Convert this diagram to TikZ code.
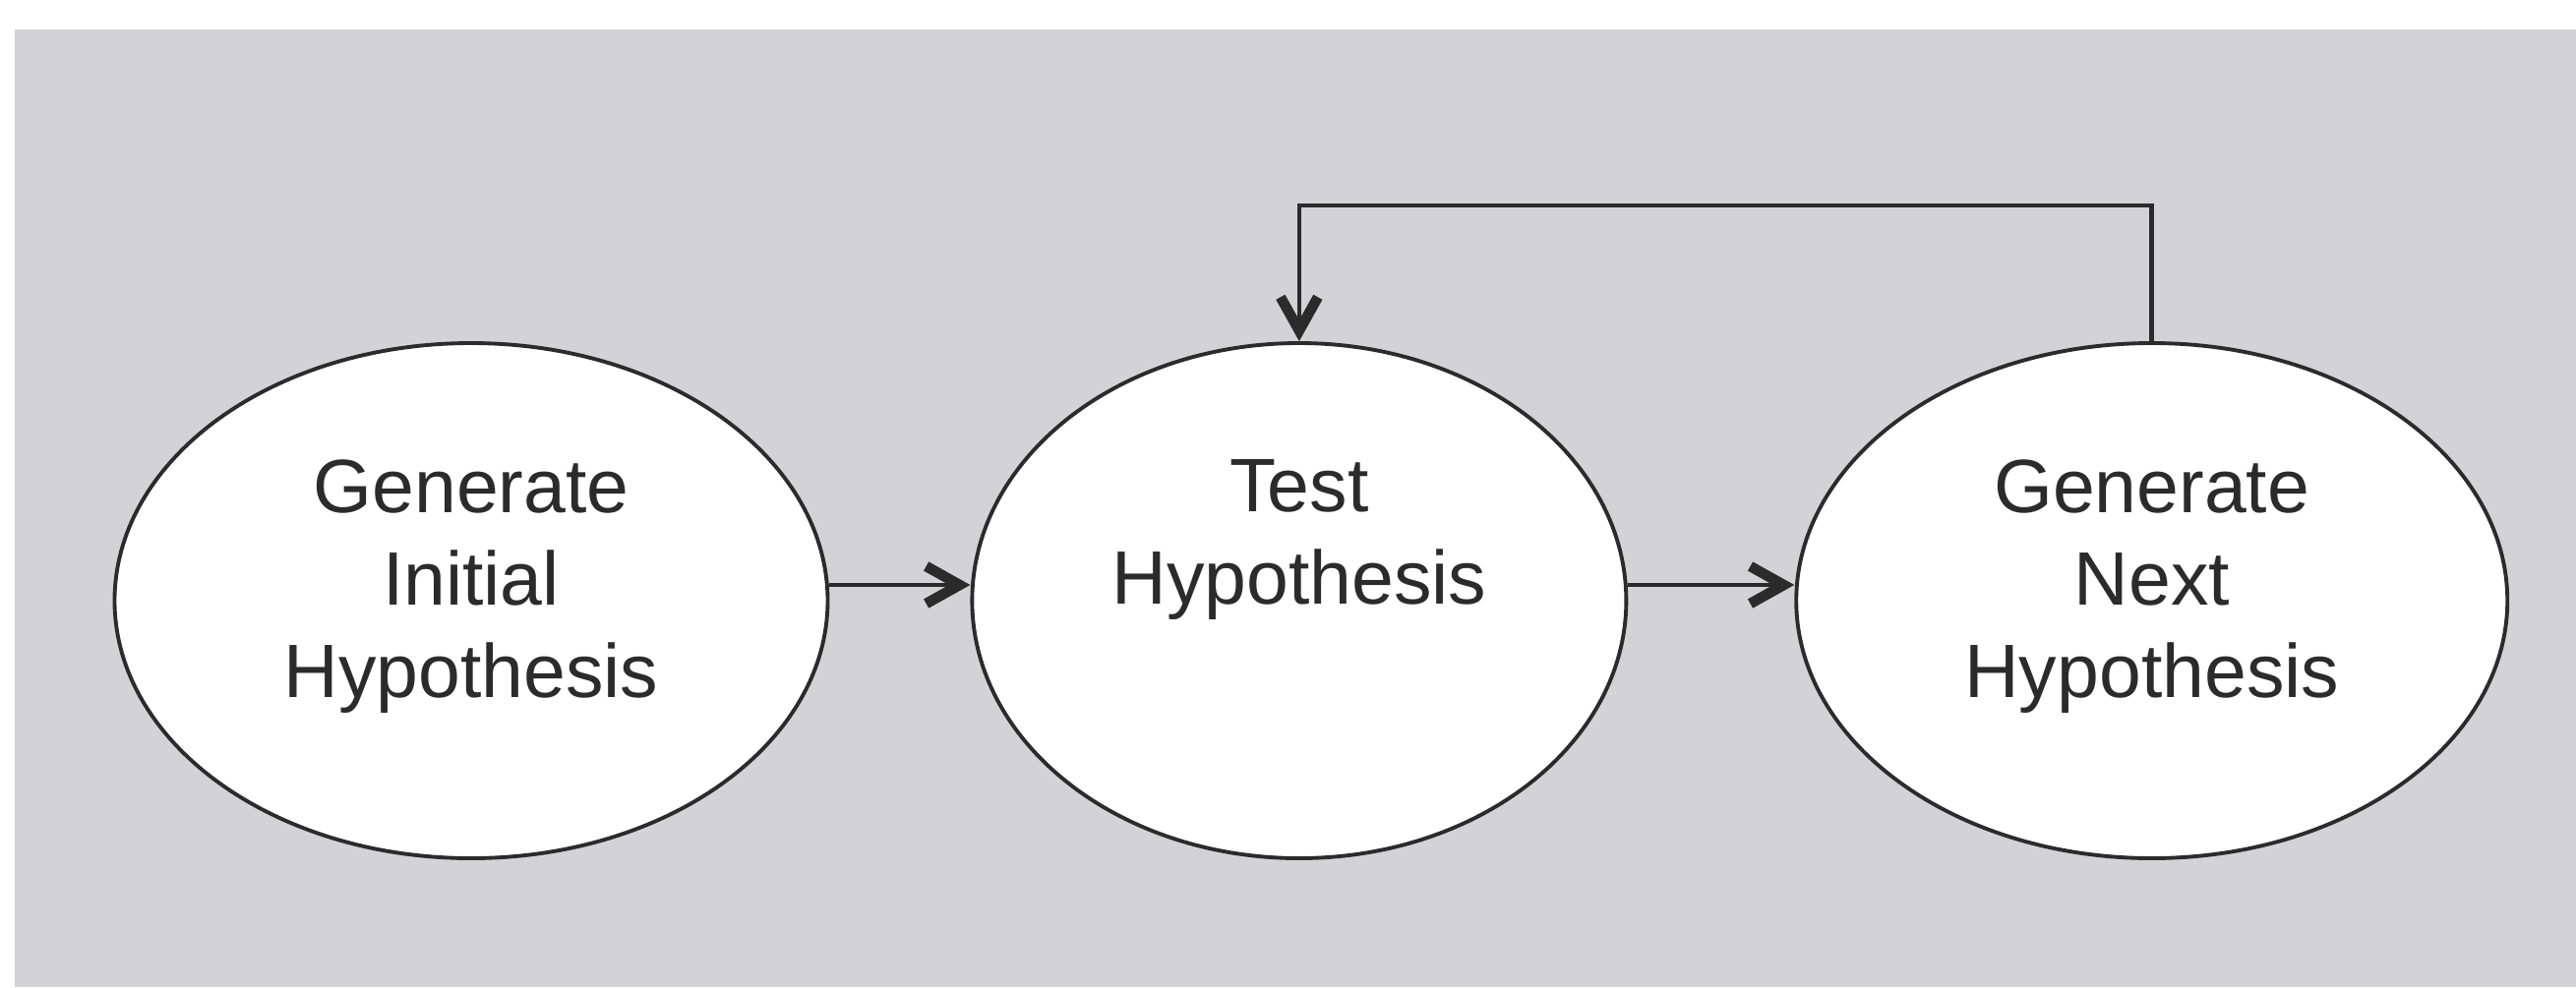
\documentclass[tikz,border=0pt]{standalone}
\usepackage{fontspec}
\setmainfont{Liberation Sans}
\usetikzlibrary{arrows.meta,positioning,shapes.geometric}
\definecolor{ink}{HTML}{2B2B2B}
\definecolor{bg}{HTML}{D3D2D7}

\begin{document}
\begin{tikzpicture}[every node/.style={font=\fontsize{21.9}{26.7}\selectfont,text=ink},
 hyp/.style={ellipse,draw=ink,line width=1.1pt,fill=white,minimum height=5.24cm,inner sep=0pt},
 lbl/.style={align=center,inner sep=0pt},
 arr/.style={-{Straight Barb[line width=3pt,length=3.4mm,width=3.8mm]},line width=1.3pt,draw=ink}]
\useasboundingbox (0,0) rectangle (26.19,-10.04);
\fill[bg] (0.15,-0.30) rectangle (26.19,-10.04);
% the three steps
\node[hyp,minimum width=7.25cm] (gen1) at (4.79,-6.11) {};
\node[hyp,minimum width=6.65cm,right=1.43cm of gen1] (test) {};
\node[hyp,minimum width=7.23cm,right=1.69cm of test] (next) {};
\node[lbl,below=1.2cm of gen1.north] (gen1txt) {Generate\\Initial\\Hypothesis};
\node[lbl,below=1.2cm of test.north] (testtxt) {Test\\Hypothesis};
\node[lbl,below=1.2cm of next.north] (nexttxt) {Generate\\Next\\Hypothesis};
% flow and loop back
\draw[arr] ([yshift=1.6mm]gen1.east) -- ([yshift=1.6mm]test.west);
\draw[arr] ([yshift=1.6mm]test.east) -- ([yshift=1.6mm]next.west);
\draw[arr] (next.north) -- ++(0,1.38) -| (test.north);
\end{tikzpicture}
\end{document}
